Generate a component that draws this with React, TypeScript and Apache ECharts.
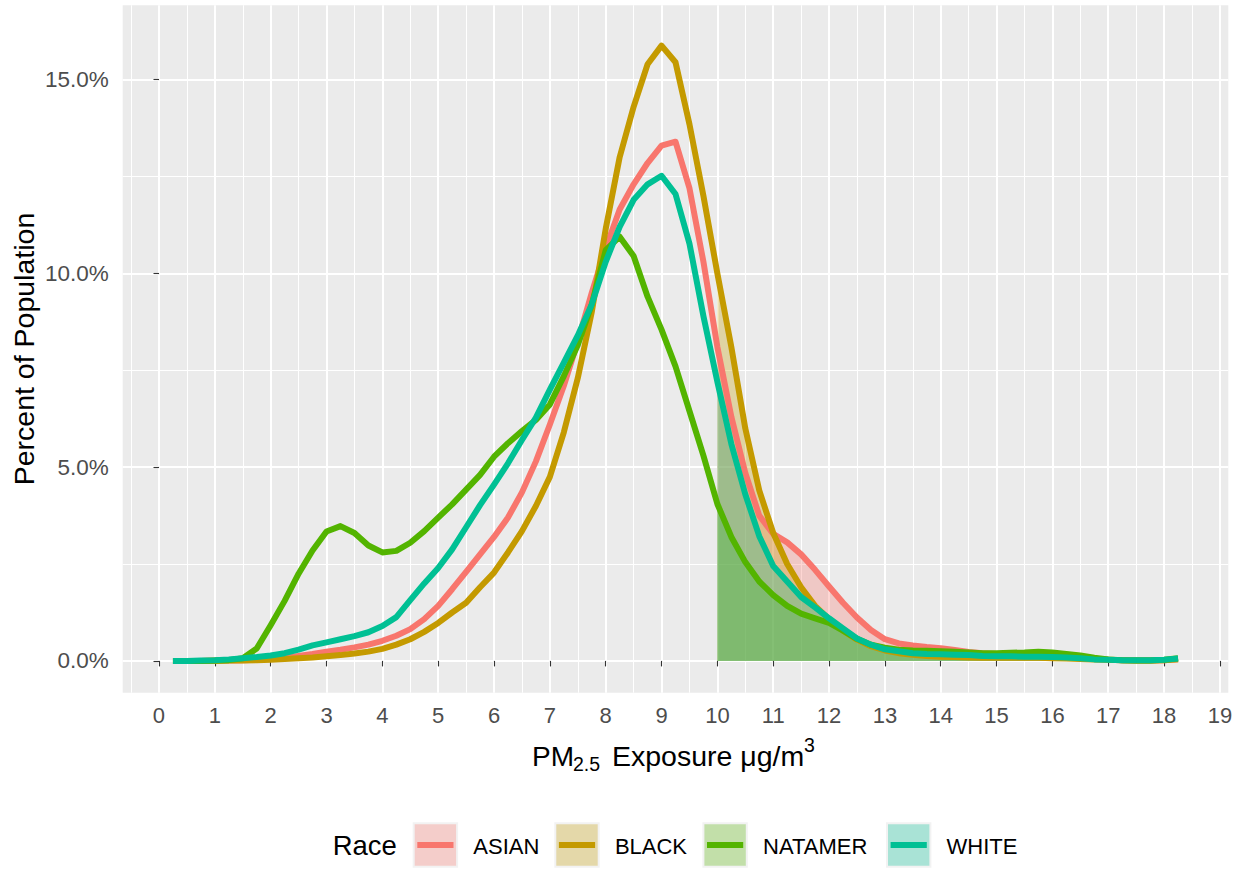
import React, { useEffect, useRef } from "react";
import * as echarts from "echarts";

const FONT = "'Liberation Sans', Arial, sans-serif";

const RACES = ["ASIAN", "BLACK", "NATAMER", "WHITE"];
const COLORS = ["#F8766D", "#C49A00", "#53B400", "#00C094"];

const X_VALUES = [
  0.25, 0.5, 0.75, 1, 1.25, 1.5, 1.75, 2, 2.25, 2.5, 2.75, 3, 3.25, 3.5, 3.75, 4,
  4.25, 4.5, 4.75, 5, 5.25, 5.5, 5.75, 6, 6.25, 6.5, 6.75, 7, 7.25, 7.5, 7.75, 8,
  8.25, 8.5, 8.75, 9, 9.25, 9.5, 9.75, 10, 10.25, 10.5, 10.75, 11, 11.25, 11.5, 11.75, 12,
  12.25, 12.5, 12.75, 13, 13.25, 13.5, 13.75, 14, 14.25, 14.5, 14.75, 15, 15.25, 15.5, 15.75, 16,
  16.25, 16.5, 16.75, 17, 17.25, 17.5, 17.75, 18, 18.25,
];

const ASIAN = [
  0, 0, 0, 0.01, 0.01, 0.02, 0.03, 0.05, 0.08, 0.13, 0.18, 0.24, 0.29, 0.35, 0.42, 0.52,
  0.65, 0.82, 1.08, 1.42, 1.85, 2.3, 2.75, 3.2, 3.7, 4.35, 5.15, 6.1, 7.1, 8.25, 9.5, 10.65,
  11.65, 12.3, 12.85, 13.3, 13.4, 12.2, 10.3, 8.1, 6.3, 4.85, 3.75, 3.28, 3.06, 2.75, 2.35, 1.92,
  1.5, 1.12, 0.8, 0.56, 0.45, 0.4, 0.36, 0.33, 0.28, 0.23, 0.2, 0.18, 0.16, 0.14, 0.13, 0.11,
  0.09, 0.07, 0.05, 0.03, 0.02, 0.01, 0.01, 0.02, 0.04,
];

const BLACK = [
  0, 0, 0, 0, 0.01, 0.01, 0.02, 0.03, 0.05, 0.07, 0.09, 0.12, 0.15, 0.19, 0.24, 0.31,
  0.42, 0.56, 0.75, 0.98, 1.25, 1.5, 1.9, 2.28, 2.8, 3.35, 4.0, 4.75, 5.9, 7.3, 9.0, 11.15,
  13.0, 14.3, 15.4, 15.88, 15.45, 13.85, 12.0, 10.0, 8.1, 6.0, 4.4, 3.3, 2.5, 1.9, 1.42, 1.08,
  0.78, 0.55, 0.38, 0.27, 0.2, 0.16, 0.13, 0.11, 0.1, 0.09, 0.08, 0.08, 0.08, 0.08, 0.08, 0.07,
  0.06, 0.05, 0.04, 0.03, 0.02, 0.01, 0.01, 0.02, 0.04,
];

const NATAMER = [
  0, 0, 0, 0.01, 0.02, 0.07, 0.32, 0.92, 1.55, 2.25, 2.85, 3.34, 3.48, 3.3, 2.98, 2.8,
  2.84, 3.05, 3.35, 3.7, 4.04, 4.42, 4.8, 5.27, 5.62, 5.93, 6.22, 6.62, 7.35, 8.15, 9.2, 10.6,
  10.95, 10.45, 9.4, 8.55, 7.6, 6.45, 5.3, 4.05, 3.2, 2.55, 2.05, 1.7, 1.42, 1.22, 1.1, 0.98,
  0.78, 0.57, 0.42, 0.34, 0.29, 0.27, 0.26, 0.25, 0.24, 0.22, 0.2, 0.2, 0.21, 0.22, 0.24, 0.22,
  0.18, 0.14, 0.08, 0.04, 0.02, 0.01, 0.01, 0.03, 0.07,
];

const WHITE = [
  0, 0, 0.01, 0.02, 0.04, 0.07, 0.1, 0.14, 0.2, 0.29, 0.4, 0.48, 0.56, 0.64, 0.74, 0.9,
  1.13, 1.57, 2.0, 2.4, 2.88, 3.45, 4.02, 4.55, 5.1, 5.7, 6.28, 7.0, 7.7, 8.4, 9.2, 10.3,
  11.2, 11.9, 12.3, 12.52, 12.05, 10.77, 8.9, 7.2, 5.6, 4.3, 3.22, 2.45, 2.05, 1.65, 1.38, 1.1,
  0.84, 0.58, 0.42, 0.3, 0.25, 0.2, 0.18, 0.17, 0.16, 0.15, 0.13, 0.12, 0.12, 0.11, 0.11, 0.1,
  0.09, 0.07, 0.04, 0.03, 0.02, 0.02, 0.02, 0.03, 0.06,
];

const SERIES_VALUES = [ASIAN, BLACK, NATAMER, WHITE];

const SHADE_FROM = 10;

const X_TICKS = [0, 1, 2, 3, 4, 5, 6, 7, 8, 9, 10, 11, 12, 13, 14, 15, 16, 17, 18, 19];
const X_MINOR = [
  -0.5, 0.5, 1.5, 2.5, 3.5, 4.5, 5.5, 6.5, 7.5, 8.5, 9.5, 10.5, 11.5, 12.5, 13.5, 14.5,
  15.5, 16.5, 17.5, 18.5,
];
const Y_TICKS = [0, 5, 10, 15];
const Y_MINOR = [2.5, 7.5, 12.5];

const X_MIN = -0.65;
const X_MAX = 19.15;
const Y_MIN = -0.82;
const Y_MAX = 16.92;

// legend layout (pixels)
const KEY_X = [412.7, 554.3, 702.4, 886.0];
const KEY_TOP = 822.3;
const KEY_SIZE = 45.4;
const LINE_W = 6;

function buildOption() {
  const pairs = (vals: number[]) => X_VALUES.map((x, i) => [x, vals[i]]);
  const shadedPairs = (vals: number[]) =>
    X_VALUES.map((x, i) => [x, vals[i]]).filter((p) => p[0] >= SHADE_FROM);

  const fillSeries = RACES.map((name, i) => ({
    name: name + "_fill",
    type: "line",
    data: shadedPairs(SERIES_VALUES[i]),
    showSymbol: false,
    symbol: "none",
    silent: true,
    lineStyle: { width: 0, opacity: 0 },
    areaStyle: { color: COLORS[i], opacity: 0.3 },
    z: 2,
  }));

  const lineSeries = RACES.map((name, i) => ({
    name,
    type: "line",
    data: pairs(SERIES_VALUES[i]),
    showSymbol: false,
    symbol: "none",
    silent: true,
    lineStyle: { color: COLORS[i], width: LINE_W, cap: "butt", join: "round" },
    z: 3,
  }));

  const graphics: any[] = [];

  // Y axis title
  graphics.push({
    type: "text",
    x: 24,
    y: 349,
    rotation: Math.PI / 2,
    style: {
      text: "Percent of Population",
      fontSize: 28.5,
      fontFamily: FONT,
      fill: "#000000",
      align: "center",
      verticalAlign: "middle",
    },
  });

  // X axis title with subscript & superscript
  graphics.push({
    type: "text",
    x: 532,
    y: 756,
    style: { text: "PM", fontSize: 28, fontFamily: FONT, fill: "#000", align: "left", verticalAlign: "middle" },
  });
  graphics.push({
    type: "text",
    x: 573,
    y: 764,
    style: { text: "2.5", fontSize: 19.5, fontFamily: FONT, fill: "#000", align: "left", verticalAlign: "middle" },
  });
  graphics.push({
    type: "text",
    x: 612,
    y: 756,
    style: { text: "Exposure \u03bcg/m", fontSize: 28.5, fontFamily: FONT, fill: "#000", align: "left", verticalAlign: "middle" },
  });
  graphics.push({
    type: "text",
    x: 804,
    y: 745,
    style: { text: "3", fontSize: 19.5, fontFamily: FONT, fill: "#000", align: "left", verticalAlign: "middle" },
  });

  // Legend
  graphics.push({
    type: "text",
    x: 332.7,
    y: 845,
    style: { text: "Race", fontSize: 27.5, fontFamily: FONT, fill: "#000", align: "left", verticalAlign: "middle" },
  });
  RACES.forEach((name, i) => {
    const kx = KEY_X[i];
    graphics.push({
      type: "rect",
      shape: { x: kx, y: KEY_TOP, width: KEY_SIZE, height: KEY_SIZE },
      style: { fill: "#F2F2F2" },
    });
    graphics.push({
      type: "rect",
      shape: { x: kx + 2, y: KEY_TOP + 2, width: KEY_SIZE - 4, height: KEY_SIZE - 4 },
      style: { fill: COLORS[i], opacity: 0.3 },
    });
    graphics.push({
      type: "line",
      shape: { x1: kx + 4.6, y1: KEY_TOP + KEY_SIZE / 2, x2: kx + KEY_SIZE - 4.6, y2: KEY_TOP + KEY_SIZE / 2 },
      style: { stroke: COLORS[i], lineWidth: LINE_W, lineCap: "butt" },
    });
    graphics.push({
      type: "text",
      x: kx + 60.6,
      y: 846.5,
      style: { text: name, fontSize: 22, fontFamily: FONT, fill: "#000", align: "left", verticalAlign: "middle" },
    });
  });

  return {
    animation: false,
    backgroundColor: "#FFFFFF",
    textStyle: { fontFamily: FONT },
    grid: {
      left: 122.7,
      right: 18.7,
      top: 5.3,
      bottom: 176.3,
      show: true,
      backgroundColor: "#EBEBEB",
      borderWidth: 0,
      containLabel: false,
    },
    xAxis: [
      {
        type: "value",
        min: X_MIN,
        max: X_MAX,
        axisLine: { show: false },
        axisTick: {
          show: true,
          customValues: X_TICKS,
          length: 5.5,
          lineStyle: { color: "#333333", width: 1.1 },
        },
        axisLabel: {
          customValues: X_TICKS,
          color: "#4D4D4D",
          fontSize: 22,
          fontFamily: FONT,
          margin: 12,
          formatter: (v: number) => String(v),
        },
        splitLine: { show: true, lineStyle: { color: "#FFFFFF", width: 2 } },
      },
      {
        type: "value",
        min: X_MIN,
        max: X_MAX,
        position: "top",
        axisLine: { show: false },
        axisTick: { show: false, customValues: X_MINOR },
        axisLabel: { show: false, customValues: X_MINOR },
        splitLine: { show: true, lineStyle: { color: "#FFFFFF", width: 1 } },
      },
    ],
    yAxis: [
      {
        type: "value",
        min: Y_MIN,
        max: Y_MAX,
        axisLine: { show: false },
        axisTick: {
          show: true,
          customValues: Y_TICKS,
          length: 5.5,
          lineStyle: { color: "#333333", width: 1.1 },
        },
        axisLabel: {
          customValues: Y_TICKS,
          color: "#4D4D4D",
          fontSize: 22.5,
          fontFamily: FONT,
          margin: 14,
          formatter: (v: number) => v.toFixed(1) + "%",
        },
        splitLine: { show: true, lineStyle: { color: "#FFFFFF", width: 2 } },
      },
      {
        type: "value",
        min: Y_MIN,
        max: Y_MAX,
        position: "right",
        axisLine: { show: false },
        axisTick: { show: false, customValues: Y_MINOR },
        axisLabel: { show: false, customValues: Y_MINOR },
        splitLine: { show: true, lineStyle: { color: "#FFFFFF", width: 1 } },
      },
    ],
    series: [...fillSeries, ...lineSeries],
    graphic: graphics,
  };
}

export default function App() {
  const ref = useRef<HTMLDivElement | null>(null);
  useEffect(() => {
    if (!ref.current) return;
    const chart = echarts.init(ref.current, undefined, { renderer: "svg" });
    chart.setOption(buildOption() as any);
    return () => {
      chart.dispose();
    };
  }, []);
  return (
    <div
      ref={ref}
      style={{ position: "fixed", left: 0, top: 0, width: 1247, height: 869, background: "#FFFFFF" }}
    />
  );
}
